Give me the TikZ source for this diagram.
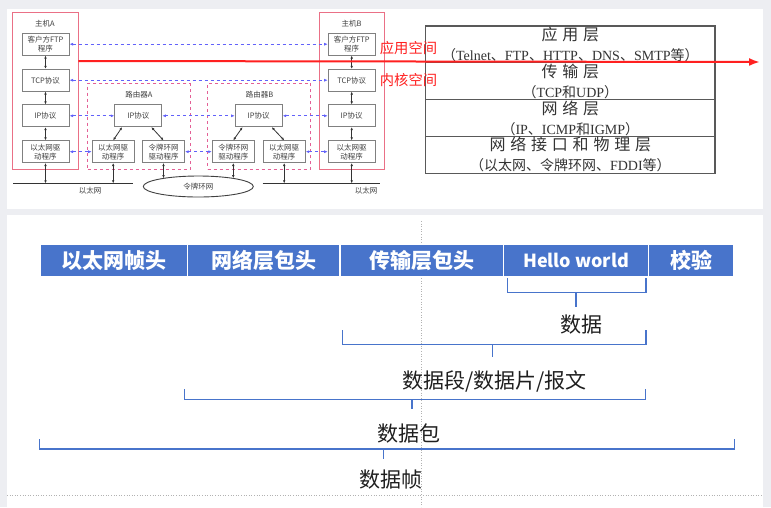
\documentclass[tikz,border=0pt]{standalone}
\usepackage{fontspec}
\setmainfont{Liberation Serif}
\newfontfamily\cjk{Noto Sans CJK SC}
\newfontfamily\cjkwide{Noto Sans CJK SC}[LetterSpace=30]
\usetikzlibrary{shapes.geometric,arrows.meta}
\definecolor{bggray}{RGB}{237,238,242}
\definecolor{hostred}{RGB}{234,112,134}
\definecolor{routerpink}{RGB}{228,96,150}
\definecolor{peerblue}{RGB}{98,98,250}
\definecolor{boxgray}{RGB}{128,128,128}
\definecolor{splitred}{RGB}{255,32,32}
\definecolor{barblue}{RGB}{72,116,203}
\newcommand{\zh}[1]{{\cjk #1}}

\begin{document}
\begin{tikzpicture}[
	x=1pt, y=-1pt,
	host/.style={ draw=hostred, line width=1.2pt, minimum width=66pt, minimum height=157pt, inner sep=0pt },
	router/.style={ draw=routerpink, dashed, line width=0.9pt, minimum width=103pt, minimum height=86pt, inner sep=0pt },
	stackbox/.style={ draw=boxgray, line width=1pt, fill=white, minimum width=47pt, minimum height=21.7pt, inner sep=1pt, align=center, text=black!75, font=\cjk\fontsize{7.5}{9}\selectfont },
	drvbox/.style={ stackbox, minimum width=42pt },
	small/.style={ text=black!75, inner sep=0pt, font=\cjk\fontsize{7.5}{9}\selectfont },
	link/.style={ <->, >={Latex[length=3pt,width=2.6pt]}, line width=0.8pt, draw=black!80 },
	peer/.style={ <->, >={Latex[length=3.5pt,width=3pt]}, dashed, line width=0.8pt, draw=peerblue },
	wire/.style={ line width=1.1pt, draw=black!80 },
	layerrow/.style={ draw=black!65, line width=1.2pt, minimum width=289.3pt, minimum height=36.8pt, inner sep=0pt, align=center, text=black!80, font=\fontsize{14}{20}\selectfont },
	redlbl/.style={ text=splitred, inner sep=0pt, font=\cjk\fontsize{14.3}{15}\selectfont },
	seg/.style={ fill=barblue, draw=white, line width=1pt, minimum height=32.4pt, inner sep=0pt, text=white, font=\cjk\bfseries\fontsize{21}{21}\selectfont },
	bracket/.style={ draw=barblue, line width=1.3pt },
	lbl/.style={ text=black!88, inner sep=0pt, font=\cjk\fontsize{21}{21}\selectfont },
	guide/.style={ draw=black!30, dotted, line width=0.6pt }
]

\fill[bggray] (0,0) rectangle (771,507);
\fill[white] (7,9) rectangle (763,209);
\fill[white] (7,215) rectangle (763,507);
\useasboundingbox (0,0) rectangle (771,507);

\node at (45.3,90.8) (hostA) [host] {};
\node at (351.8,90.8) (hostB) [host, minimum width=65pt] {};
\node at (138.9,126.3) (routerA) [router, minimum width=102.3pt] {};
\node at (259,126.3) (routerB) [router] {};
\node at (45,23.3) (hostAlbl) [small] {主机A};
\node at (351.5,23.3) (hostBlbl) [small] {主机B};
\node at (139,94.3) (routerAlbl) [small] {路由器A};
\node at (259.7,94.3) (routerBlbl) [small] {路由器B};

\node at (45.5,44.2) (ftpA) [stackbox] {客户方FTP\\程序};
\node at (45.5,80.2) (tcpA) [stackbox] {TCP协议};
\node at (45.5,115.8) (ipA) [stackbox] {IP协议};
\node at (45.5,151.7) (drvA) [stackbox] {以太网驱\\动程序};
\node at (351.7,44.2) (ftpB) [stackbox] {客户方FTP\\程序};
\node at (351.7,80.2) (tcpB) [stackbox] {TCP协议};
\node at (351.7,115.8) (ipB) [stackbox] {IP协议};
\node at (351.7,151.7) (drvB) [stackbox] {以太网驱\\动程序};

\node at (138.3,115.8) (ipRA) [stackbox] {IP协议};
\node at (113.2,151.7) (ethRA) [drvbox] {以太网驱\\动程序};
\node at (163.5,151.7) (trRA) [drvbox] {令牌环网\\驱动程序};
\node at (258.7,115.8) (ipRB) [stackbox] {IP协议};
\node at (233.3,151.7) (trRB) [drvbox] {令牌环网\\驱动程序};
\node at (284.2,151.7) (ethRB) [drvbox] {以太网驱\\动程序};

\coordinate (ethA) at (13,183.3);
\coordinate (ethAend) at (133,183.3);
\coordinate (ethB) at (262.7,183.3);
\coordinate (ethBend) at (380,183.3);
\draw[wire] (ethA) -- (ethAend);
\draw[wire] (ethB) -- (ethBend);
\node at (90,191) (ethAlbl) [small] {以太网};
\node at (366,191) (ethBlbl) [small] {以太网};
\node at (198.3,186.5) (ring) [ellipse, draw=black!75, line width=0.9pt, fill=white, minimum width=110pt, minimum height=21pt, inner sep=0pt, text=black!75, font=\cjk\fontsize{7.5}{9}\selectfont] {令牌环网};

\draw[link] (ftpA) -- (tcpA);
\draw[link] (tcpA) -- (ipA);
\draw[link] (ipA) -- (drvA);
\draw[link] (ftpB) -- (tcpB);
\draw[link] (tcpB) -- (ipB);
\draw[link] (ipB) -- (drvB);
\draw[link] (drvA) -- (drvA |- ethA);
\draw[link] (ethRA) -- (ethRA |- ethA);
\draw[link] (trRA) -- (trRA |- ring.167);
\draw[link] (trRB) -- (trRB |- ring.13);
\draw[link] (ethRB) -- (ethRB |- ethB);
\draw[link] (drvB) -- (drvB |- ethB);
\draw[link] (ipRA.215) -- (ethRA.north);
\draw[link] (ipRA.319) -- (trRA.north);
\draw[link] (ipRB.215) -- (trRB.north);
\draw[link] (ipRB.319) -- (ethRB.north);

\draw[peer] (ftpA) -- (ftpB);
\draw[peer] (tcpA) -- (tcpB);
\draw[peer] (ipA) -- (ipRA);
\draw[peer] (ipRA) -- (ipRB);
\draw[peer] (ipRB) -- (ipB);
\draw[peer] (drvA) -- (ethRA);
\draw[peer] (trRA) -- (trRB);
\draw[peer] (ethRB) -- (drvB);

\node at (570.35,44.4) (appl) [layerrow] {{\cjkwide\fontsize{16}{20}\selectfont 应用层}\\\zh{（}Telnet\zh{、}FTP\zh{、}HTTP\zh{、}DNS\zh{、}SMTP\zh{等）}};
\node at (570.35,81.2) (trans) [layerrow] {{\cjkwide\fontsize{16}{20}\selectfont 传输层}\\\zh{（}TCP\zh{和}UDP\zh{）}};
\node at (570.35,118) (netw) [layerrow] {{\cjkwide\fontsize{16}{20}\selectfont 网络层}\\\zh{（}IP\zh{、}ICMP\zh{和}IGMP\zh{）}};
\node at (570.35,154.8) (phys) [layerrow] {{\cjkwide\fontsize{16}{20}\selectfont 网络接口和物理层}\\\zh{（以太网、令牌环网、}FDDI\zh{等）}};

\coordinate (userA) at (78.3,61);
\coordinate (userEnd) at (760,62);
\draw[draw=splitred, line width=2pt, -{Latex[length=11pt,width=8pt]}] (userA) -- (userEnd);
\node at (408.5,48.3) (userlbl) [redlbl] {应用空间};
\node at (408.5,80) (kernlbl) [redlbl] {内核空间};

\draw[guide] (421,221) -- (421,507);
\draw[guide] (7,495.7) -- (763,495.7);

\node at (114.3,260.5) (ethhdr) [seg, minimum width=146.7pt] {以太网帧头};
\node at (263.8,260.5) (iphdr) [seg, minimum width=152.3pt] {网络层包头};
\node at (421.7,260.5) (tcphdr) [seg, minimum width=163.3pt] {传输层包头};
\node at (576,260.5) (payload) [seg, minimum width=145.7pt, font=\cjk\bfseries\fontsize{18}{18}\selectfont] {Hello world};
\node at (691,260.5) (fcs) [seg, minimum width=84.7pt] {校验};

\coordinate (dataL) at (507.3,278);
\coordinate (dataR) at (646,278);
\coordinate (dataTick) at (576,292.7);
\draw[bracket] (dataL) -- ++(0,14.7) -| (dataR);
\draw[bracket] (dataTick) -- ++(0,14.3);
\node at (581.7,325) (dataLbl) [lbl] {数据};

\coordinate (segL) at (342.3,330);
\coordinate (segR) at (646,330);
\coordinate (segTick) at (492.5,344.3);
\draw[bracket] (segL) -- ++(0,14.3) -| (segR);
\draw[bracket] (segTick) -- ++(0,13);
\node at (494.5,381) (segLbl) [lbl] {数据段/数据片/报文};

\coordinate (pktL) at (184.4,389.3);
\coordinate (pktR) at (645.5,389.3);
\coordinate (pktTick) at (412,399.3);
\draw[bracket] (pktL) -- ++(0,10) -| (pktR);
\draw[bracket] (pktTick) -- ++(0,10);
\node at (408.5,433.3) (pktLbl) [lbl] {数据包};

\coordinate (frmL) at (39.3,439);
\coordinate (frmR) at (734.5,439);
\coordinate (frmTick) at (383.5,449);
\draw[bracket] (frmL) -- ++(0,10) -| (frmR);
\draw[bracket] (frmTick) -- ++(0,10);
\node at (391,479.3) (frmLbl) [lbl] {数据帧};

\end{tikzpicture}
\end{document}
